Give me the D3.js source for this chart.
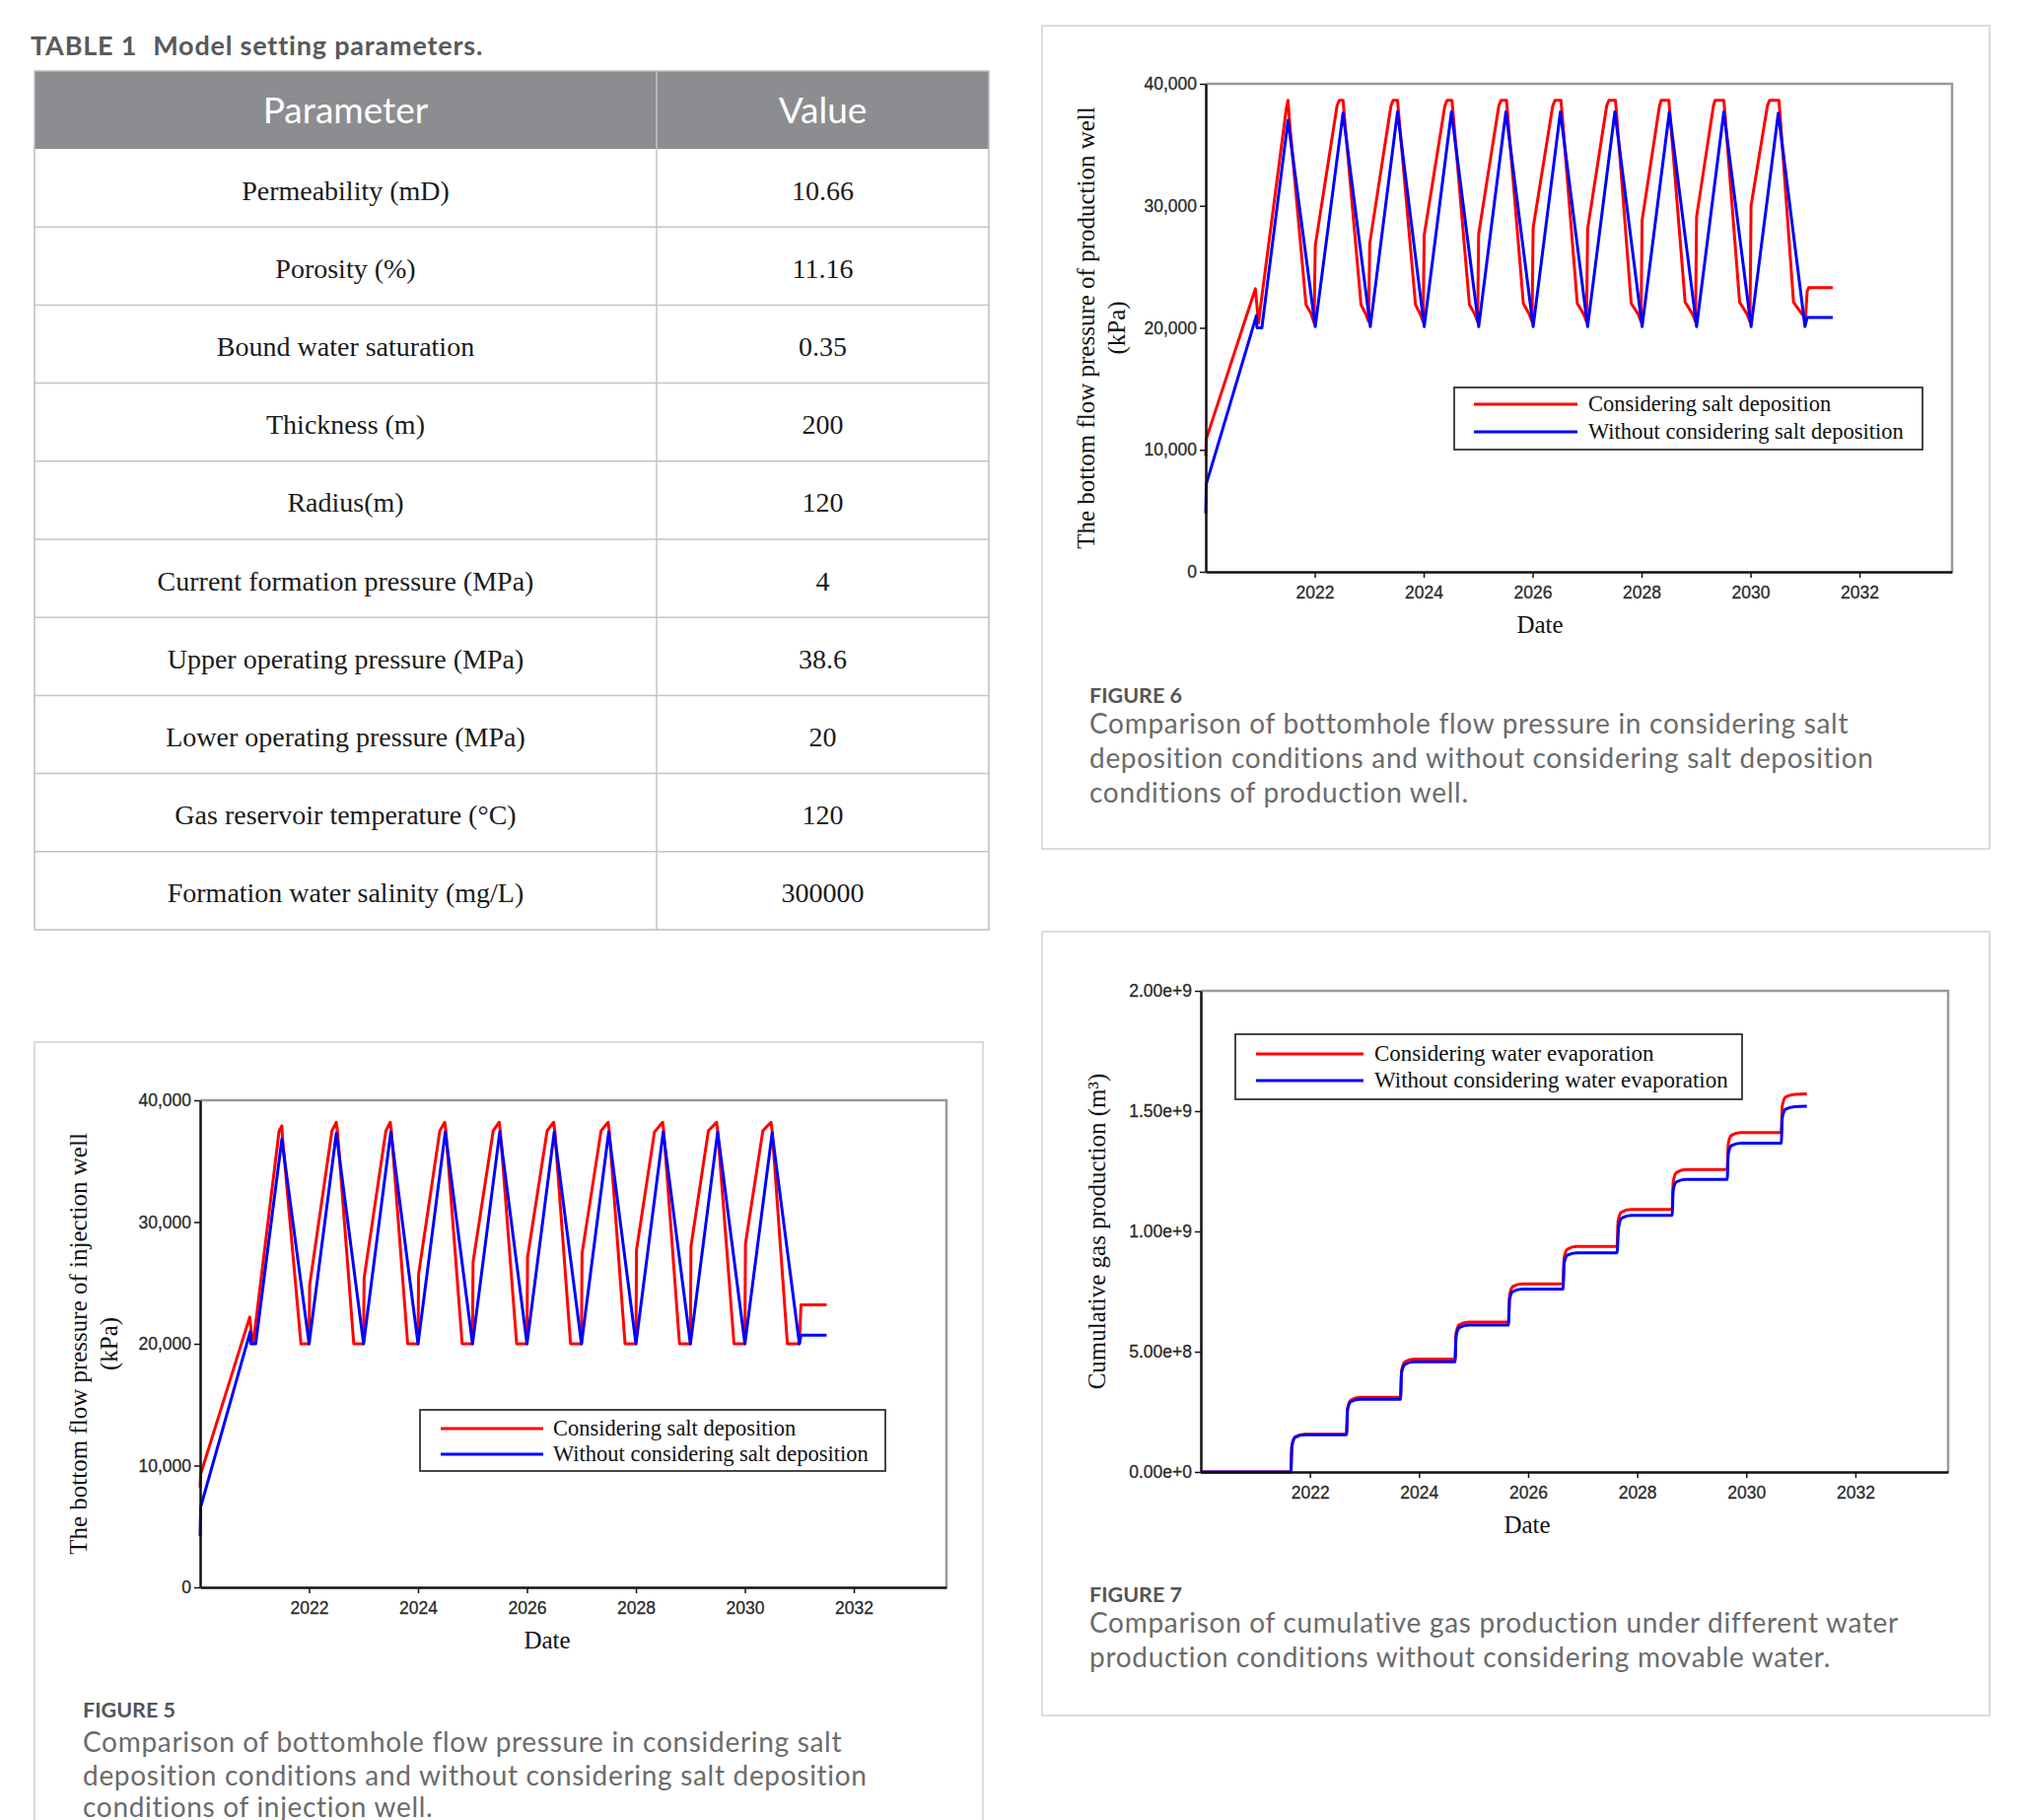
<!DOCTYPE html>
<html><head><meta charset="utf-8">
<script src="https://cdn.jsdelivr.net/npm/d3@7"></script>
<style>body{margin:0;background:#fff;} svg{display:block;}</style>
</head><body>
<svg id="c" width="2056" height="1846"></svg>
<script>
// ---------- DATA ----------
const tableParams = ["Permeability (mD)","Porosity (%)","Bound water saturation","Thickness (m)","Radius(m)",
  "Current formation pressure (MPa)","Upper operating pressure (MPa)","Lower operating pressure (MPa)",
  "Gas reservoir temperature (°C)","Formation water salinity (mg/L)"];
const tableValues = ["10.66","11.16","0.35","200","120","4","38.6","20","120","300000"];

const xTicks = [2022,2024,2026,2028,2030,2032];
const pressureTicks = [0,10000,20000,30000,40000];
const gasTicks = [0,0.5e9,1.0e9,1.5e9,2.0e9];

// Figure 6: production well bottom-hole pressure (kPa)
const prodRed = [
[2020.00,9500],[2020.01,10900],[2020.91,23200],[2020.97,20400],[2020.99,21200],
[2021.48,38000],[2021.51,38650],[2021.54,36800],[2021.84,21900],[2021.93,21200],[2021.99,20400],
[2022.01,26700],[2022.41,38200],[2022.45,38650],[2022.52,38650],[2022.54,37600],[2022.85,21900],[2022.94,21100],[2022.99,20500],
[2023.01,26900],[2023.40,38200],[2023.44,38650],[2023.52,38650],[2023.54,37600],[2023.85,21900],[2023.94,21100],[2023.99,20500],
[2024.01,27600],[2024.39,38200],[2024.43,38650],[2024.52,38650],[2024.54,37600],[2024.84,21900],[2024.94,21100],[2024.99,20500],
[2025.01,27700],[2025.38,38200],[2025.42,38650],[2025.52,38650],[2025.54,37600],[2025.83,22000],[2025.94,21100],[2025.99,20500],
[2026.01,28200],[2026.37,38200],[2026.41,38650],[2026.52,38650],[2026.54,37600],[2026.82,22000],[2026.94,21100],[2026.99,20500],
[2027.01,28100],[2027.36,38200],[2027.40,38650],[2027.52,38650],[2027.54,37600],[2027.81,22000],[2027.94,21100],[2027.99,20500],
[2028.01,28800],[2028.33,38200],[2028.36,38650],[2028.50,38650],[2028.52,37600],[2028.80,22100],[2028.94,21100],[2028.99,20500],
[2029.01,29100],[2029.32,38200],[2029.35,38650],[2029.51,38650],[2029.53,37600],[2029.80,22100],[2029.94,21100],[2029.99,20500],
[2030.01,30000],[2030.31,38200],[2030.35,38650],[2030.52,38650],[2030.54,37600],[2030.79,22100],[2030.95,21100],[2031.01,20800],
[2031.04,23000],[2031.07,23300],[2031.51,23300]
];
const prodBlue = [
[2020.00,4800],[2020.01,7200],[2020.93,21000],[2020.94,20000],[2021.03,20000],[2021.51,37000],
[2022.01,20100],[2022.52,37600],[2023.02,20100],[2023.52,37700],[2024.01,20100],[2024.51,37700],
[2025.01,20100],[2025.51,37700],[2026.01,20100],[2026.51,37700],[2027.01,20100],[2027.51,37700],
[2028.01,20100],[2028.51,37700],[2029.01,20100],[2029.51,37700],[2030.01,20100],[2030.51,37600],
[2031.00,20100],[2031.04,20850],[2031.51,20850]
];

// Figure 5: injection well bottom-hole pressure (kPa)
const injRed = [
[2020.00,8200],[2020.01,9300],[2020.91,22200],[2020.96,20100],[2020.99,20600],
[2021.45,37500],[2021.50,37900],[2021.51,37000],[2021.85,20000],[2022.00,20000],
[2022.01,24800],[2022.42,37500],[2022.50,38200],[2022.52,37500],[2022.82,20000],[2023.00,20000],
[2023.01,25400],[2023.41,37500],[2023.49,38200],[2023.51,37500],[2023.81,20000],[2024.00,20000],
[2024.01,25700],[2024.40,37500],[2024.49,38200],[2024.51,37500],[2024.81,20000],[2025.00,20000],
[2025.01,26700],[2025.38,37500],[2025.49,38200],[2025.51,37500],[2025.81,20000],[2026.00,20000],
[2026.01,27100],[2026.37,37500],[2026.49,38200],[2026.51,37500],[2026.80,20000],[2027.00,20000],
[2027.01,27400],[2027.36,37500],[2027.49,38200],[2027.51,37500],[2027.80,20000],[2028.00,20000],
[2028.01,27700],[2028.34,37400],[2028.49,38200],[2028.51,37500],[2028.80,20000],[2029.00,20000],
[2029.01,28000],[2029.33,37500],[2029.48,38200],[2029.50,37500],[2029.80,20000],[2030.00,20000],
[2030.01,28200],[2030.33,37500],[2030.48,38200],[2030.50,37500],[2030.78,20000],[2031.00,20000],
[2031.03,23200],[2031.50,23200]
];
const injBlue = [
[2020.00,4200],[2020.01,6600],[2020.92,21000],[2020.93,20000],[2021.02,20000],[2021.50,36800],
[2022.00,20000],[2022.50,37300],[2023.00,20000],[2023.50,37400],[2024.00,20000],[2024.50,37400],
[2025.00,20000],[2025.50,37400],[2026.00,20000],[2026.50,37400],[2027.00,20000],[2027.50,37400],
[2028.00,20000],[2028.50,37400],[2029.00,20000],[2029.50,37400],[2030.00,20000],[2030.50,37300],
[2031.00,20000],[2031.03,20700],[2031.50,20700]
];

// Figure 7: cumulative gas production (m3)
const gasRed = [
[2020.00,0],[2021.65,0],[2021.67,0.110e9],[2021.73,0.146e9],[2021.90,0.157e9],
[2022.67,0.157e9],[2022.69,0.264e9],[2022.75,0.299e9],[2022.92,0.310e9],
[2023.66,0.310e9],[2023.68,0.421e9],[2023.74,0.458e9],[2023.91,0.469e9],
[2024.66,0.469e9],[2024.68,0.577e9],[2024.74,0.612e9],[2024.91,0.623e9],
[2025.64,0.623e9],[2025.66,0.734e9],[2025.72,0.771e9],[2025.89,0.782e9],
[2026.64,0.782e9],[2026.66,0.891e9],[2026.72,0.926e9],[2026.89,0.937e9],
[2027.63,0.937e9],[2027.65,1.045e9],[2027.71,1.080e9],[2027.88,1.091e9],
[2028.64,1.091e9],[2028.66,1.207e9],[2028.72,1.245e9],[2028.89,1.257e9],
[2029.65,1.257e9],[2029.67,1.365e9],[2029.73,1.400e9],[2029.90,1.411e9],
[2030.64,1.411e9],[2030.66,1.522e9],[2030.72,1.559e9],[2030.89,1.570e9],[2031.11,1.572e9]
];
const gasBlue = [
[2020.00,0],[2021.65,0],[2021.67,0.108e9],[2021.73,0.144e9],[2021.90,0.155e9],
[2022.67,0.155e9],[2022.69,0.258e9],[2022.75,0.292e9],[2022.92,0.302e9],
[2023.66,0.302e9],[2023.68,0.411e9],[2023.74,0.447e9],[2023.91,0.458e9],
[2024.66,0.458e9],[2024.68,0.565e9],[2024.74,0.600e9],[2024.91,0.611e9],
[2025.64,0.611e9],[2025.66,0.715e9],[2025.72,0.750e9],[2025.89,0.760e9],
[2026.64,0.760e9],[2026.66,0.866e9],[2026.72,0.901e9],[2026.89,0.911e9],
[2027.63,0.911e9],[2027.66,1.020e9],[2027.72,1.056e9],[2027.89,1.067e9],
[2028.64,1.067e9],[2028.66,1.171e9],[2028.72,1.206e9],[2028.89,1.216e9],
[2029.65,1.216e9],[2029.67,1.322e9],[2029.73,1.357e9],[2029.90,1.367e9],
[2030.64,1.367e9],[2030.66,1.473e9],[2030.72,1.508e9],[2030.89,1.518e9],[2031.11,1.520e9]
];

const saltLegend = ["Considering salt deposition","Without considering salt deposition"];
const waterLegend = ["Considering water evaporation","Without considering water evaporation"];

// ---------- DRAW ----------
const svg = d3.select("#c");
svg.append("rect").attr("width",2056).attr("height",1846).attr("fill","#fff");
const SANS = "Lato, 'Open Sans', sans-serif";
const SERIF = "'Liberation Serif', 'Times New Roman', serif";
const AX = "'Liberation Sans', Arial, sans-serif";

// Table
(function(){
  const L = 35, R = 1003, top = 72, headH = 79, rowH = 79.2, colX = 666;
  const t = svg.append("text").attr("x",31).attr("y",56).attr("font-family",SANS)
    .attr("font-size",27).attr("font-weight",700).attr("letter-spacing",0.8).attr("fill","#58595b");
  t.append("tspan").text("TABLE 1");
  t.append("tspan").attr("dx",16).text("Model setting parameters.");
  svg.append("rect").attr("x",L).attr("y",top).attr("width",R-L).attr("height",headH).attr("fill","#8c8d90");
  svg.append("text").attr("x",(L+colX)/2).attr("y",top+headH/2+13).attr("text-anchor","middle")
    .attr("font-family",SANS).attr("font-size",37).attr("fill","#fff").text("Parameter");
  svg.append("text").attr("x",(colX+R)/2).attr("y",top+headH/2+13).attr("text-anchor","middle")
    .attr("font-family",SANS).attr("font-size",37).attr("fill","#fff").text("Value");
  const bodyTop = top+headH, bottom = bodyTop + rowH*tableParams.length;
  const rows = svg.append("g");
  tableParams.forEach((p,i)=>{
    const cy = bodyTop + rowH*i + rowH/2;
    rows.append("text").attr("x",(L+colX)/2).attr("y",cy+12).attr("text-anchor","middle")
      .attr("font-family",SERIF).attr("font-size",28).attr("fill","#1a1a1a").text(p);
    rows.append("text").attr("x",(colX+R)/2).attr("y",cy+12).attr("text-anchor","middle")
      .attr("font-family",SERIF).attr("font-size",28).attr("fill","#1a1a1a").text(tableValues[i]);
    if(i>0) rows.append("line").attr("x1",L).attr("x2",R).attr("y1",bodyTop+rowH*i).attr("y2",bodyTop+rowH*i)
      .attr("stroke","#c4c4c4").attr("stroke-width",1.5);
  });
  svg.append("line").attr("x1",colX).attr("x2",colX).attr("y1",top).attr("y2",bottom).attr("stroke","#c4c4c4").attr("stroke-width",1.5);
  svg.append("rect").attr("x",L).attr("y",top).attr("width",R-L).attr("height",bottom-top)
    .attr("fill","none").attr("stroke","#bdbdbd").attr("stroke-width",1.5);
})();

function chart(o){
  const [pl,pt,pr,pb] = o.panel;
  svg.append("rect").attr("x",pl).attr("y",pt).attr("width",pr-pl).attr("height",pb-pt)
    .attr("fill","none").attr("stroke","#cfcfcf").attr("stroke-width",1.5);
  const [l,t,r,b] = o.plot;
  const x = d3.scaleLinear().domain([2020,2033.7]).range([l,r]);
  const y = d3.scaleLinear().domain(o.yDomain).range([b,t]);
  const g = svg.append("g");
  g.append("path").attr("d",`M${l},${t}H${r}V${b}`).attr("fill","none").attr("stroke","#9a9a9a").attr("stroke-width",2.5);
  const line = d3.line().x(d=>x(d[0])).y(d=>y(d[1])).curve(o.curve || d3.curveLinear);
  [[o.red,"#ff0000"],[o.blue,"#0000ff"]].forEach(([d,c])=>{
    g.append("path").datum(d).attr("d",line).attr("fill","none").attr("stroke",c)
      .attr("stroke-width",3).attr("stroke-linejoin","round");
  });
  const xa = g.append("g").attr("transform",`translate(0,${b})`)
    .call(d3.axisBottom(x).tickValues(xTicks).tickFormat(d3.format("d")).tickSize(6).tickSizeOuter(0).tickPadding(9));
  const ya = g.append("g").attr("transform",`translate(${l},0)`)
    .call(d3.axisLeft(y).tickValues(o.yTicks).tickFormat(o.fmt).tickSize(6).tickSizeOuter(0).tickPadding(3));
  [xa,ya].forEach(a=>{
    a.select(".domain").attr("stroke","#111").attr("stroke-width",2.5);
    a.selectAll(".tick line").attr("stroke","#111").attr("stroke-width",1.5);
    a.selectAll(".tick text").attr("font-family",AX).attr("font-size",17.5).attr("fill","#2a2a2a")
      .attr("stroke","#2a2a2a").attr("stroke-width",0.3);
  });
  // legend
  const [ll,lt,lr,lb] = o.legend;
  g.append("rect").attr("x",ll).attr("y",lt).attr("width",lr-ll).attr("height",lb-lt)
    .attr("fill","#fff").attr("stroke","#333").attr("stroke-width",1.8);
  o.legendText.forEach((s,i)=>{
    const yy = o.legendY[i];
    g.append("line").attr("x1",o.legendLine[0]).attr("x2",o.legendLine[1]).attr("y1",yy).attr("y2",yy)
      .attr("stroke",i===0?"#ff0000":"#0000ff").attr("stroke-width",3);
    g.append("text").attr("x",o.legendTextX).attr("y",yy+7).attr("font-family",SERIF)
      .attr("font-size",o.legendFont).attr("fill","#111").text(s);
  });
  // axis titles
  g.append("text").attr("x",o.dateX).attr("y",b+62).attr("text-anchor","middle")
    .attr("font-family",SERIF).attr("font-size",25).attr("fill","#111").text("Date");
  const yc = (t+b)/2;
  o.yTitle.forEach((s,i)=>{
    g.append("text").attr("transform",`translate(${o.yTitleX[i]},${yc}) rotate(-90)`)
      .attr("text-anchor","middle").attr("font-family",SERIF).attr("font-size",25).attr("fill","#111").text(s);
  });
  // caption
  svg.append("text").attr("x",o.capX).attr("y",o.capY[0]).attr("font-family",SANS).attr("font-weight",700)
    .attr("font-size",21.5).attr("fill","#555").text(o.capTitle);
  o.capLines.forEach((s,i)=>{
    svg.append("text").attr("x",o.capX).attr("y",o.capY[i+1]).attr("font-family",SANS)
      .attr("font-size",28).attr("letter-spacing",0.7).attr("fill","#6b6b6b").text(s);
  });
}

chart({
  panel:[1057,26,2018,861], plot:[1223,85,1980,580], yDomain:[0,40000], yTicks:pressureTicks,
  fmt:d3.format(","), red:prodRed, blue:prodBlue,
  legend:[1475,393,1950,456], legendLine:[1495,1600], legendY:[410,438], legendTextX:1611, legendFont:22.5,
  legendText:saltLegend, dateX:1562,
  yTitle:["The bottom flow pressure of production well","(kPa)"], yTitleX:[1110,1141],
  capX:1105, capTitle:"FIGURE 6", capY:[713,744,779,814],
  capLines:["Comparison of bottomhole flow pressure in considering salt",
            "deposition conditions and without considering salt deposition",
            "conditions of production well."]
});
chart({
  panel:[35,1057,997,1870], plot:[203,1116,960,1610], yDomain:[0,40000], yTicks:pressureTicks,
  fmt:d3.format(","), red:injRed, blue:injBlue,
  legend:[426,1430,898,1492], legendLine:[447,551], legendY:[1449,1475], legendTextX:561, legendFont:22.5,
  legendText:saltLegend, dateX:555,
  yTitle:["The bottom flow pressure of injection well","(kPa)"], yTitleX:[88,119],
  capX:84, capTitle:"FIGURE 5", capY:[1742,1777,1811,1843],
  capLines:["Comparison of bottomhole flow pressure in considering salt",
            "deposition conditions and without considering salt deposition",
            "conditions of injection well."]
});
chart({
  panel:[1057,945,2018,1740], plot:[1218,1005,1976,1493], yDomain:[0,2.0e9], yTicks:gasTicks,
  fmt:d3.format(".2e"), red:gasRed, blue:gasBlue, curve:d3.curveMonotoneX,
  legend:[1253,1049,1767,1115], legendLine:[1274,1383], legendY:[1069,1096], legendTextX:1394, legendFont:23,
  legendText:waterLegend, dateX:1549,
  yTitle:["Cumulative gas production (m³)"], yTitleX:[1121],
  capX:1105, capTitle:"FIGURE 7", capY:[1625,1656,1691],
  capLines:["Comparison of cumulative gas production under different water",
            "production conditions without considering movable water."]
});
</script>
</body></html>
